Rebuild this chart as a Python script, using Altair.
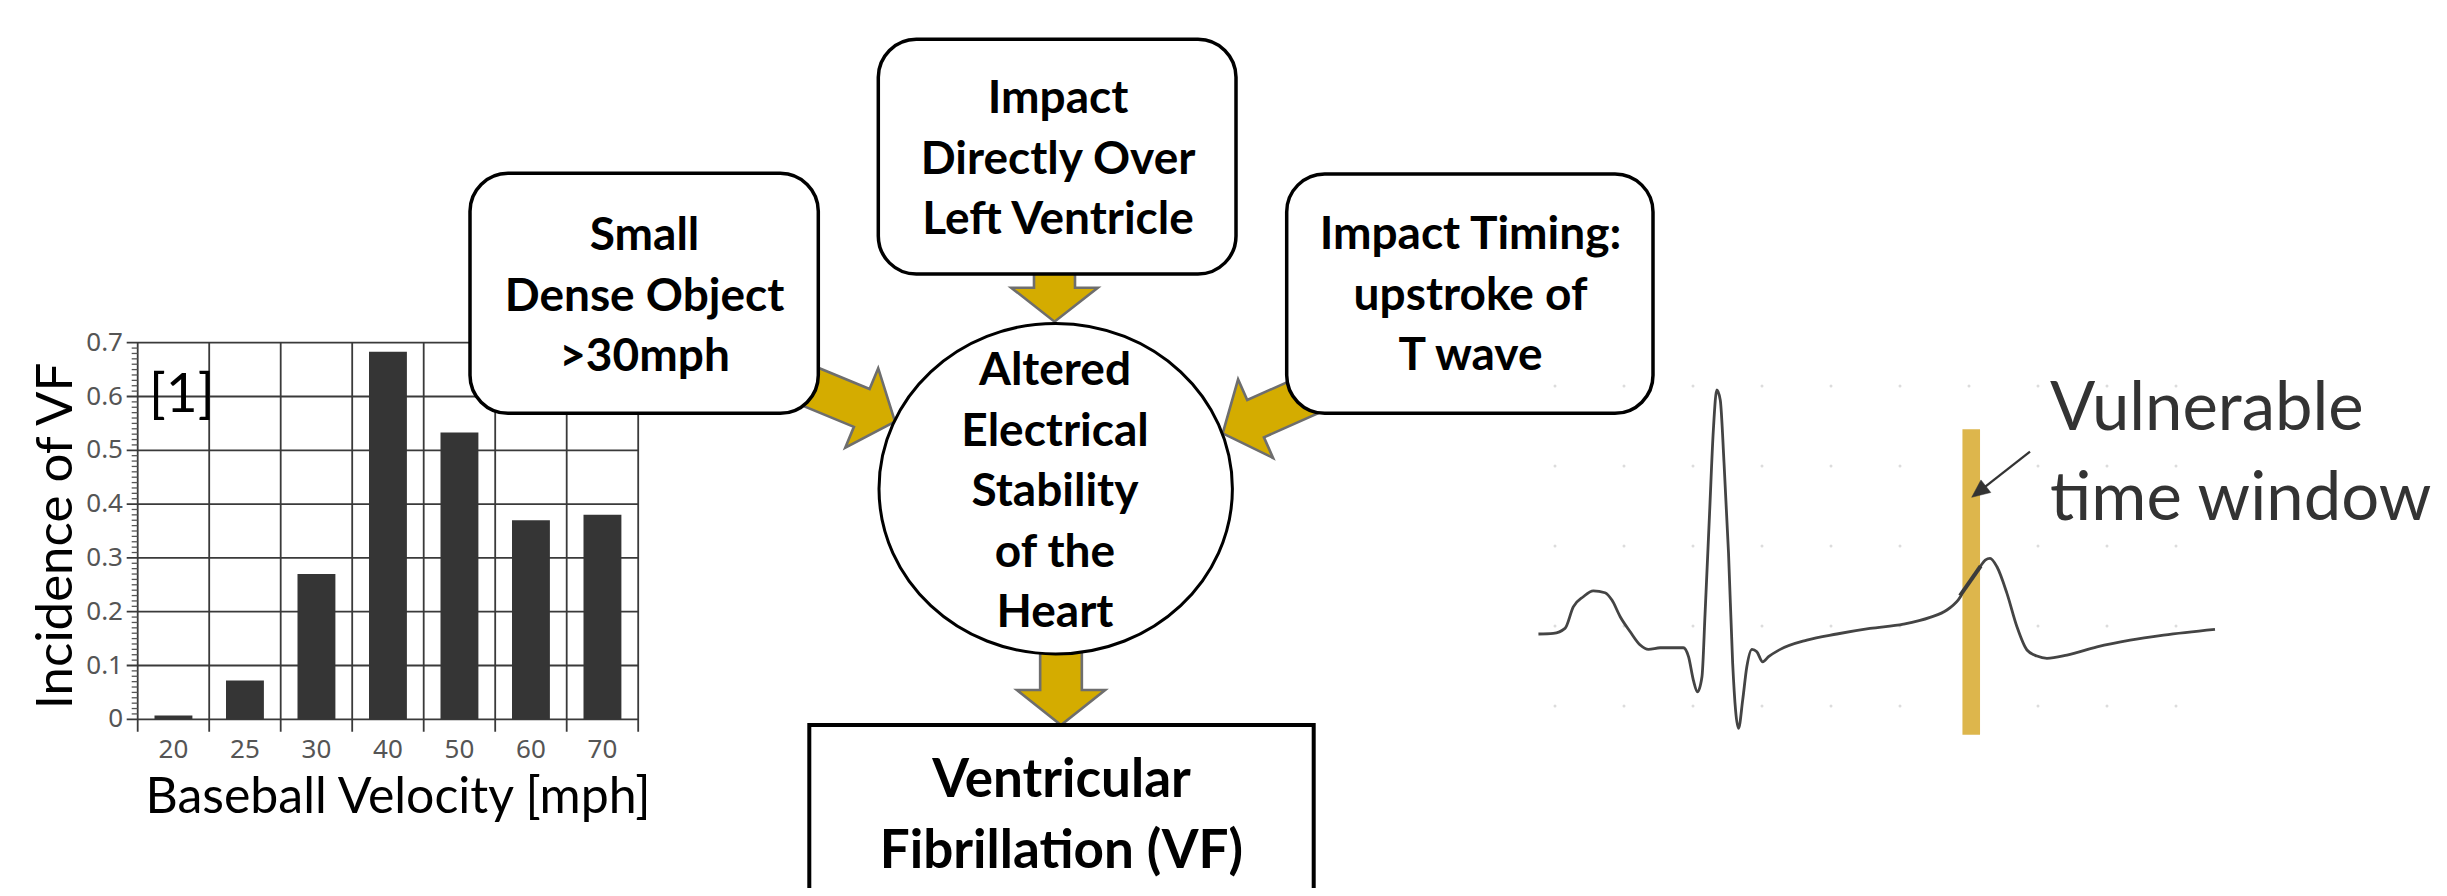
import math
import altair as alt
import pandas as pd

PAGE_W, PAGE_H = 2447, 896
M = 8
W, H = PAGE_W - 2 * M, PAGE_H - 2 * M

# ---------------- data: bar chart [1] ----------------
velocity_mph = ["20", "25", "30", "40", "50", "60", "70"]
vf_incidence = [0.007, 0.072, 0.270, 0.683, 0.533, 0.370, 0.380]
y_tick_values = [0.0, 0.1, 0.2, 0.3, 0.4, 0.5, 0.6, 0.7]
y_tick_labels = ["0", "0.1", "0.2", "0.3", "0.4", "0.5", "0.6", "0.7"]
y_minor_ticks = [round(i / 100, 2) for i in range(1, 70) if i % 10]
band_edges = list(range(len(velocity_mph) + 1))

# ---------------- data: ECG trace ----------------
ecg_time_ms = [152, 195, 229, 253, 282, 311, 345, 365, 389, 418,
               447, 471, 505, 572, 587, 601, 613, 626, 635, 648,
               659, 669, 679, 690, 703, 715, 732, 744, 756, 771,
               785, 802, 819, 853, 930, 1017, 1113, 1210, 1287, 1336,
               1369, 1398, 1432, 1447, 1461, 1481, 1510, 1539, 1568, 1597,
               1626, 1684, 1771, 1867, 1964, 2113]
ecg_mv = [-0.05, -0.046, -0.015, 0.12, 0.183, 0.22, 0.208, 0.162, 0.058, -0.036,
          -0.119, -0.146, -0.136, -0.136, -0.192, -0.338, -0.411, -0.317, 0.079, 0.704,
          1.225, 1.475, 1.412, 1.017, 0.454, -0.234, -0.64, -0.463, -0.255, -0.146,
          -0.161, -0.224, -0.192, -0.146, -0.088, -0.05, -0.015, 0.012, 0.054, 0.1,
          0.164, 0.264, 0.37, 0.412, 0.423, 0.37, 0.204, -0.005, -0.15, -0.188,
          -0.202, -0.182, -0.13, -0.088, -0.057, -0.021]
ecg_grid_ms = [200, 400, 600, 800, 1000, 1200, 1400, 1600, 1800, 2000]
ecg_grid_mv = [-0.5, 0.0, 0.5, 1.0, 1.5]
vulnerable_ms = [1381, 1432]
vulnerable_mv = [-0.68, 1.23]
upstroke_ms = [1374, 1434]
upstroke_mv = [0.19, 0.375]

# ---------------- texts ----------------
x_title = "Baseball Velocity [mph]"
y_title = "Incidence of VF"
ref_label = "[1]"
node_texts = ["Small\nDense Object\n>30mph",
              "Impact\nDirectly Over\nLeft Ventricle",
              "Impact Timing:\nupstroke of\nT wave",
              "Altered\nElectrical\nStability\nof the\nHeart"]
outcome_text = "Ventricular\nFibrillation (VF)"
window_text = "Vulnerable\ntime window"

# ---------------- layout (page pixels) ----------------
BAR_LEFT, BAR_RIGHT = 137.7, 638.2
BAR_ZERO_Y, BAR_TOP_Y = 719.3, 342.7
TICK_LEFT, MINOR_LEFT, VLINE_BOTTOM = 126.7, 131.7, 731.7

ECG_X0, ECG_PX_PER_MS = 1486.0, 0.345
ECG_Y0, ECG_PX_PER_MV = 626.0, 160.0

FONT = "Lato"
GOLD, GOLD_EDGE = "#D4AC00", "#6E6E6E"

canvas_x = alt.Scale(domain=[0, PAGE_W], range=[-M, PAGE_W - M], zero=False, nice=False)
canvas_y = alt.Scale(domain=[0, PAGE_H], range=[-M, PAGE_H - M], zero=False, nice=False)
bar_x = alt.Scale(type="band", domain=velocity_mph, range=[BAR_LEFT - M, BAR_RIGHT - M],
                  paddingInner=0.47, paddingOuter=0.235)
bar_y = alt.Scale(domain=[0, 0.7], range=[BAR_ZERO_Y - M, BAR_TOP_Y - M], nice=False)
edge_x = alt.Scale(domain=[0, len(velocity_mph)], range=[BAR_LEFT - M, BAR_RIGHT - M], nice=False, zero=False)
ecg_x = alt.Scale(domain=[0, 2200], range=[ECG_X0 - M, ECG_X0 + 2200 * ECG_PX_PER_MS - M], nice=False, zero=False)
ecg_y = alt.Scale(domain=[-1, 2], range=[ECG_Y0 + ECG_PX_PER_MV - M, ECG_Y0 - 2 * ECG_PX_PER_MV - M],
                  nice=False, zero=False)


def cx(f):
    return alt.X(f, type="quantitative", scale=canvas_x, axis=None)


def cy(f):
    return alt.Y(f, type="quantitative", scale=canvas_y, axis=None)


def fmt(pts):
    return "M " + " L ".join(f"{x:.2f} {y:.2f}" for x, y in pts) + " Z"


def block_arrow(angle_deg, length, shaft_w, head_w, head_len):
    a = math.radians(angle_deg)
    d = (math.cos(a), math.sin(a))
    p = (-d[1], d[0])

    def pt(along, side):
        return (-along * d[0] + side * p[0], -along * d[1] + side * p[1])

    return fmt([pt(length, shaft_w / 2), pt(head_len, shaft_w / 2), pt(head_len, head_w / 2), (0, 0),
                pt(head_len, -head_w / 2), pt(head_len, -shaft_w / 2), pt(length, -shaft_w / 2)])


def ellipse_path(rx, ry):
    k = 0.5523
    return (f"M {-rx} 0 C {-rx} {-k*ry} {-k*rx} {-ry} 0 {-ry} C {k*rx} {-ry} {rx} {-k*ry} {rx} 0 "
            f"C {rx} {k*ry} {k*rx} {ry} 0 {ry} C {-k*rx} {ry} {-rx} {k*ry} {-rx} 0 Z")


# ---------------- bar chart layers ----------------
df_bars = pd.DataFrame({"velocity": velocity_mph, "incidence": vf_incidence})
df_major = pd.DataFrame({"v": y_tick_values, "label": y_tick_labels})

hgrid = alt.Chart(df_major).mark_rule(color="#3a3a3a", strokeWidth=1.8).encode(
    y=alt.Y("v:Q", scale=bar_y, axis=None),
    x=alt.value(TICK_LEFT - M), x2=alt.value(BAR_RIGHT - M))
vgrid = alt.Chart(pd.DataFrame({"i": band_edges})).mark_rule(color="#3a3a3a", strokeWidth=1.8).encode(
    x=alt.X("i:Q", scale=edge_x, axis=None),
    y=alt.value(BAR_TOP_Y - M), y2=alt.value(VLINE_BOTTOM - M))
minor = alt.Chart(pd.DataFrame({"v": y_minor_ticks})).mark_rule(color="#555555", strokeWidth=1.3).encode(
    y=alt.Y("v:Q", scale=bar_y, axis=None),
    x=alt.value(MINOR_LEFT - M), x2=alt.value(BAR_LEFT - M))
bars = alt.Chart(df_bars).mark_bar(color="#353535").encode(
    x=alt.X("velocity:N", scale=bar_x, axis=None, sort=None),
    y=alt.Y("incidence:Q", scale=bar_y, axis=None),
    y2=alt.datum(0))
ylabels = alt.Chart(df_major).mark_text(align="right", baseline="middle", font="Noto Sans",
                                        fontSize=26, color="#555555").encode(
    y=alt.Y("v:Q", scale=bar_y, axis=None), x=alt.value(123 - M), text="label:N")
xlabels = alt.Chart(df_bars).mark_text(align="center", baseline="middle", font="Noto Sans",
                                       fontSize=26, color="#555555").encode(
    x=alt.X("velocity:N", scale=bar_x, axis=None, sort=None), y=alt.value(750 - M), text="velocity:N")

xt = alt.Chart(pd.DataFrame({"x": [398], "y": [813], "t": [x_title]})).mark_text(
    font=FONT, fontSize=50, align="center", baseline="alphabetic", color="black").encode(
    x=cx("x"), y=cy("y"), text="t:N")
yt = alt.Chart(pd.DataFrame({"x": [72], "y": [536], "t": [y_title]})).mark_text(
    font=FONT, fontSize=51, align="center", baseline="alphabetic", angle=270, color="black").encode(
    x=cx("x"), y=cy("y"), text="t:N")
reft = alt.Chart(pd.DataFrame({"x": [149], "y": [412], "t": [ref_label]})).mark_text(
    font=FONT, fontSize=55, align="left", baseline="alphabetic", color="black").encode(
    x=cx("x"), y=cy("y"), text="t:N")

# ---------------- flow diagram ----------------
arrows = pd.DataFrame({
    "x": [895.0, 1054.5, 1222.7, 1061.0],
    "y": [421.7, 321.7, 433.3, 725.0],
    "shape": [block_arrow(22.5, 140, 41, 86, 36),
              block_arrow(90, 62, 41, 86.6, 34),
              block_arrow(156, 140, 41, 86, 36),
              block_arrow(90, 90, 41.7, 88.3, 35)],
})
arrow_layer = alt.Chart(arrows).mark_point(filled=True, size=4, opacity=1, fill=GOLD, stroke=GOLD_EDGE,
                                           strokeWidth=2.6).encode(
    x=cx("x"), y=cy("y"), shape=alt.Shape("shape:N", scale=None))

boxes = pd.DataFrame({"x0": [470.0, 878.3, 1286.7], "x1": [818.3, 1236.0, 1653.0],
                      "y0": [173.3, 39.3, 174.0], "y1": [413.3, 274.0, 413.3]})
box_layer = alt.Chart(boxes).mark_rect(cornerRadius=38, fill="white", stroke="black", strokeWidth=3.5).encode(
    x=cx("x0"), x2="x1:Q", y=cy("y0"), y2="y1:Q")
vf_box = alt.Chart(pd.DataFrame({"x0": [809.3], "x1": [1313.7], "y0": [725.0], "y1": [910.0]})).mark_rect(
    fill="white", stroke="black", strokeWidth=4).encode(x=cx("x0"), x2="x1:Q", y=cy("y0"), y2="y1:Q")
ellipse = alt.Chart(pd.DataFrame({"x": [1055.7], "y": [488.7], "shape": [ellipse_path(176.7, 165.3)]})).mark_point(
    filled=True, size=4, opacity=1, fill="white", stroke="black", strokeWidth=3).encode(
    x=cx("x"), y=cy("y"), shape=alt.Shape("shape:N", scale=None))

node_df = pd.DataFrame({"x": [644.5, 1058.0, 1470.5, 1055.0], "y": [250.0, 113.3, 249.3, 385.0], "t": node_texts})
node_text = alt.Chart(node_df).mark_text(font=FONT, fontWeight="bold", fontSize=46, lineHeight=60.5,
                                         lineBreak="\n", align="center", baseline="alphabetic",
                                         color="black").encode(x=cx("x"), y=cy("y"), text="t:N")
vf_text = alt.Chart(pd.DataFrame({"x": [1061.5], "y": [796.7], "t": [outcome_text]})).mark_text(
    font=FONT, fontWeight="bold", fontSize=53, lineHeight=71.7, lineBreak="\n", align="center",
    baseline="alphabetic", color="black").encode(x=cx("x"), y=cy("y"), text="t:N")

# ---------------- ECG ----------------
df_ecg = pd.DataFrame({"t": ecg_time_ms, "v": ecg_mv})
df_dots = pd.DataFrame([{"t": t, "v": v} for t in ecg_grid_ms for v in ecg_grid_mv])
dots = alt.Chart(df_dots).mark_point(filled=True, size=9, opacity=1, color="#dcdcdc").encode(
    x=alt.X("t:Q", scale=ecg_x, axis=None), y=alt.Y("v:Q", scale=ecg_y, axis=None))
ecg_line = alt.Chart(df_ecg).mark_line(color="#444444", strokeWidth=2.8, interpolate="monotone").encode(
    x=alt.X("t:Q", scale=ecg_x, axis=None), y=alt.Y("v:Q", scale=ecg_y, axis=None))
window = alt.Chart(pd.DataFrame({"t0": [vulnerable_ms[0]], "t1": [vulnerable_ms[1]],
                                 "v0": [vulnerable_mv[0]], "v1": [vulnerable_mv[1]]})).mark_rect(
    color="#DDB64C").encode(x=alt.X("t0:Q", scale=ecg_x, axis=None), x2="t1:Q",
                            y=alt.Y("v0:Q", scale=ecg_y, axis=None), y2="v1:Q")
upstroke = alt.Chart(pd.DataFrame({"t": upstroke_ms, "v": upstroke_mv})).mark_line(
    color="#3c3c3c", strokeWidth=4).encode(x=alt.X("t:Q", scale=ecg_x, axis=None),
                                           y=alt.Y("v:Q", scale=ecg_y, axis=None))

ann_start, ann_tip = (2030.0, 451.7), (1971.7, 497.3)
ang = math.degrees(math.atan2(ann_tip[1] - ann_start[1], ann_tip[0] - ann_start[0]))
ann_rule = alt.Chart(pd.DataFrame({"x0": [ann_start[0]], "y0": [ann_start[1]],
                                   "x1": [ann_tip[0] + 12 * math.cos(math.radians(ang + 180))],
                                   "y1": [ann_tip[1] + 12 * math.sin(math.radians(ang + 180))]})).mark_rule(
    color="#333333", strokeWidth=2.3).encode(x=cx("x0"), x2="x1:Q", y=cy("y0"), y2="y1:Q")
ann_head = alt.Chart(pd.DataFrame({"x": [ann_tip[0]], "y": [ann_tip[1]],
                                   "shape": [block_arrow(ang, 18, 0.1, 16, 18)]})).mark_point(
    filled=True, size=4, opacity=1, fill="#333333", stroke="#333333", strokeWidth=0.5).encode(
    x=cx("x"), y=cy("y"), shape=alt.Shape("shape:N", scale=None))
win_text = alt.Chart(pd.DataFrame({"x": [2050.0], "y": [430.0], "t": [window_text]})).mark_text(
    font=FONT, fontSize=67, lineHeight=90, lineBreak="\n", align="left", baseline="alphabetic",
    color="#333333").encode(x=cx("x"), y=cy("y"), text="t:N")

chart = alt.layer(
    hgrid, vgrid, minor, bars, ylabels, xlabels, xt, yt, reft,
    arrow_layer, box_layer, vf_box, ellipse, node_text, vf_text,
    dots, ecg_line, window, upstroke, ann_rule, ann_head, win_text,
).resolve_scale(x="independent", y="independent").properties(
    width=W, height=H, padding=0, autosize=alt.AutoSizeParams(type="none"), background="white"
).configure_view(stroke=None)

chart.save("out.html", embed_options={"renderer": "svg", "actions": False})
